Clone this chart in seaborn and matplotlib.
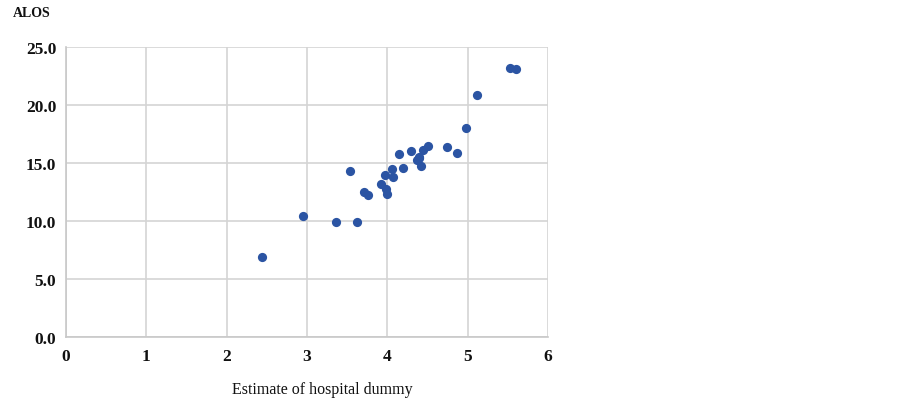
import matplotlib
matplotlib.use("Agg")
import matplotlib.pyplot as plt
import seaborn as sns
import pandas as pd

estimate = [2.44, 2.95, 3.36, 3.62, 3.53, 3.71, 3.76, 3.92, 3.97, 3.98, 3.99,
            4.06, 4.07, 4.15, 4.19, 4.29, 4.39, 4.37, 4.40, 4.42, 4.44, 4.50,
            4.74, 4.87, 4.98, 5.12, 5.53, 5.60]
alos = [6.9, 10.4, 9.9, 9.9, 14.3, 12.5, 12.2, 13.2, 14.0, 12.8, 12.3,
        14.5, 13.8, 15.8, 14.6, 16.0, 15.5, 15.3, 15.4, 14.7, 16.1, 16.5,
        16.4, 15.9, 18.0, 20.9, 23.2, 23.1]
x_ticks = [0, 1, 2, 3, 4, 5, 6]
y_ticks = [0, 5, 10, 15, 20, 25]

df = pd.DataFrame({"estimate": estimate, "alos": alos})

sns.set_style("white")
plt.rcParams["font.family"] = ["Liberation Serif", "DejaVu Serif"]

fig = plt.figure(figsize=(9.02, 4.06), dpi=100)
ax = fig.add_axes([66/902, 1-338/406, (548-66)/902, (338-48)/406])

sns.scatterplot(data=df, x="estimate", y="alos", ax=ax, s=44,
                color="#2b54a3", edgecolor="#2b54a3", linewidth=0, zorder=3)

ax.set_xlim(0, 6)
ax.set_ylim(0, 25)
ax.set_xticks(x_ticks)
ax.set_yticks(y_ticks)
ax.set_yticklabels([f"{v:.1f}" for v in y_ticks])
ax.grid(True, color="#d4d4d4", linewidth=1.2)
ax.set_axisbelow(True)
for side in ["top", "right"]:
    ax.spines[side].set_visible(False)
for side in ["left", "bottom"]:
    ax.spines[side].set_color("#c8c8c8")
    ax.spines[side].set_linewidth(1.2)
ax.tick_params(axis="both", length=0, labelsize=12.5, colors="#111111")
ax.tick_params(axis="y", pad=7)
ax.tick_params(axis="x", pad=8)
for lbl in ax.get_xticklabels() + ax.get_yticklabels():
    lbl.set_fontweight("bold")

ax.set_xlabel("")
ax.set_ylabel("")
fig.text(322/902, 1-390/406, "Estimate of hospital dummy", fontsize=11.5,
         ha="center", va="center", color="#111111")
fig.text(31.5/902, 1-13.5/406, "ALOS", fontsize=10, fontweight="bold",
         ha="center", va="center", color="#111111")

fig.savefig("out.png", dpi=100)
